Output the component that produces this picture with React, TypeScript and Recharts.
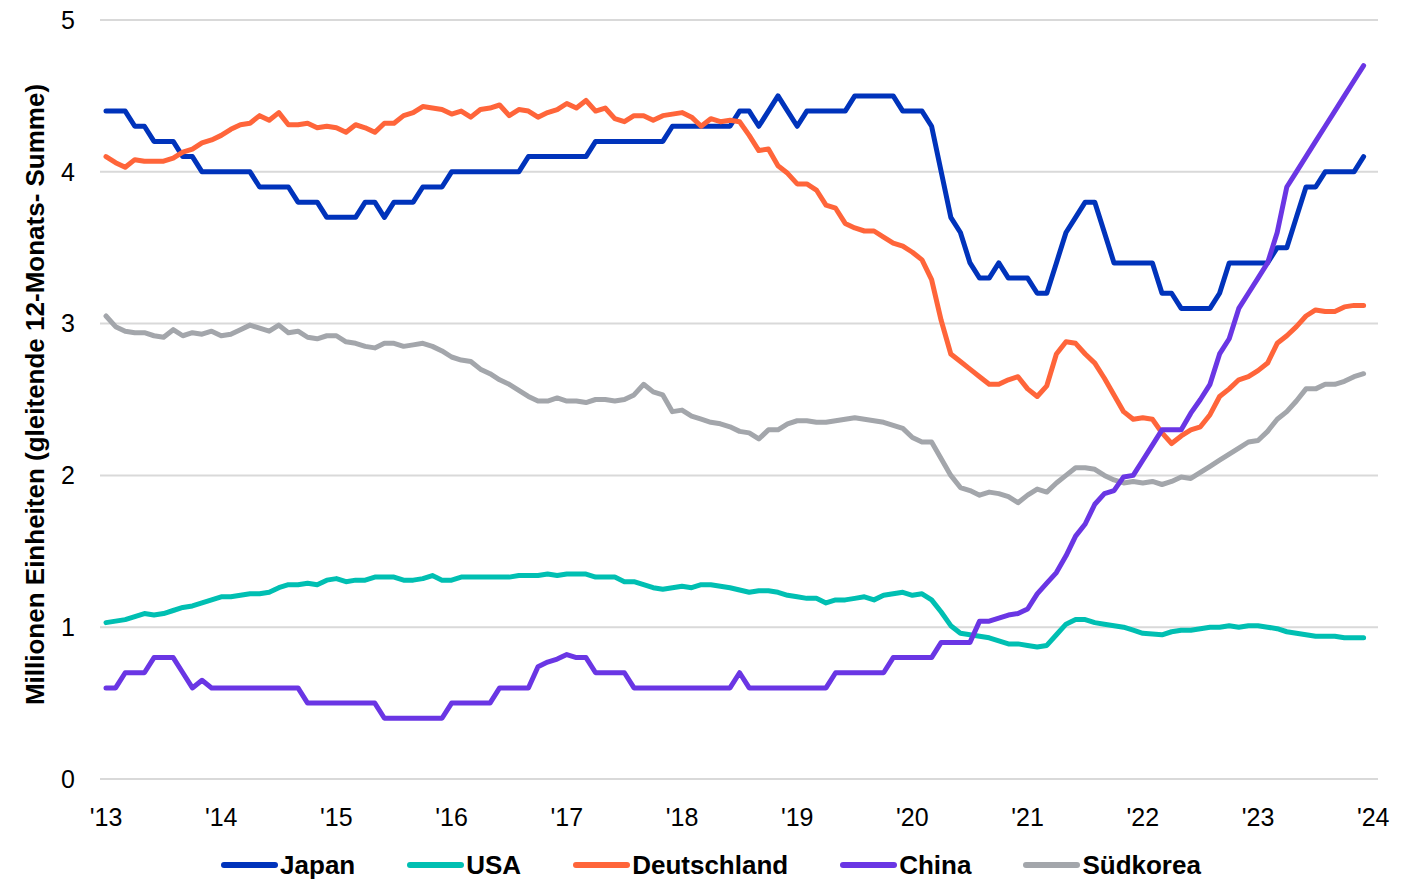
import React from "react";
import { LineChart, Line, XAxis, YAxis, CartesianGrid, Legend, Label } from "recharts";

// monthly values, Jan 2013 .. Dec 2023 (rolling 12-month sums, millions)
const japan = [
  4.4, 4.4, 4.4, 4.3, 4.3, 4.2, 4.2, 4.2, 4.1, 4.1, 4.0, 4.0,
  4.0, 4.0, 4.0, 4.0, 3.9, 3.9, 3.9, 3.9, 3.8, 3.8, 3.8, 3.7,
  3.7, 3.7, 3.7, 3.8, 3.8, 3.7, 3.8, 3.8, 3.8, 3.9, 3.9, 3.9,
  4.0, 4.0, 4.0, 4.0, 4.0, 4.0, 4.0, 4.0, 4.1, 4.1, 4.1, 4.1,
  4.1, 4.1, 4.1, 4.2, 4.2, 4.2, 4.2, 4.2, 4.2, 4.2, 4.2, 4.3,
  4.3, 4.3, 4.3, 4.3, 4.3, 4.3, 4.4, 4.4, 4.3, 4.4, 4.5, 4.4,
  4.3, 4.4, 4.4, 4.4, 4.4, 4.4, 4.5, 4.5, 4.5, 4.5, 4.5, 4.4,
  4.4, 4.4, 4.3, 4.0, 3.7, 3.6, 3.4, 3.3, 3.3, 3.4, 3.3, 3.3,
  3.3, 3.2, 3.2, 3.4, 3.6, 3.7, 3.8, 3.8, 3.6, 3.4, 3.4, 3.4,
  3.4, 3.4, 3.2, 3.2, 3.1, 3.1, 3.1, 3.1, 3.2, 3.4, 3.4, 3.4,
  3.4, 3.4, 3.5, 3.5, 3.7, 3.9, 3.9, 4.0, 4.0, 4.0, 4.0, 4.1,
];

const usa = [
  1.03, 1.04, 1.05, 1.07, 1.09, 1.08, 1.09, 1.11, 1.13, 1.14, 1.16, 1.18,
  1.2, 1.2, 1.21, 1.22, 1.22, 1.23, 1.26, 1.28, 1.28, 1.29, 1.28, 1.31,
  1.32, 1.3, 1.31, 1.31, 1.33, 1.33, 1.33, 1.31, 1.31, 1.32, 1.34, 1.31,
  1.31, 1.33, 1.33, 1.33, 1.33, 1.33, 1.33, 1.34, 1.34, 1.34, 1.35, 1.34,
  1.35, 1.35, 1.35, 1.33, 1.33, 1.33, 1.3, 1.3, 1.28, 1.26, 1.25, 1.26,
  1.27, 1.26, 1.28, 1.28, 1.27, 1.26, 1.245, 1.23, 1.24, 1.24, 1.23, 1.21,
  1.2, 1.19, 1.19, 1.16, 1.18, 1.18, 1.19, 1.2, 1.18, 1.21, 1.22, 1.23,
  1.21, 1.22, 1.18, 1.1, 1.01, 0.96, 0.95, 0.94, 0.93, 0.91, 0.89, 0.89,
  0.88, 0.87, 0.88, 0.95, 1.02, 1.05, 1.05, 1.03, 1.02, 1.01, 1.0, 0.98,
  0.96, 0.955, 0.95, 0.97, 0.98, 0.98, 0.99, 1.0, 1.0, 1.01, 1.0, 1.01,
  1.01, 1.0, 0.99, 0.97, 0.96, 0.95, 0.94, 0.94, 0.94, 0.93, 0.93, 0.93,
];

const deutschland = [
  4.1, 4.06, 4.03, 4.08, 4.07, 4.07, 4.07, 4.09, 4.13, 4.15, 4.19, 4.21,
  4.24, 4.28, 4.31, 4.32, 4.37, 4.34, 4.39, 4.31, 4.31, 4.32, 4.29, 4.3,
  4.29, 4.26, 4.31, 4.29, 4.26, 4.32, 4.32, 4.37, 4.39, 4.43, 4.42, 4.41,
  4.38, 4.4, 4.36, 4.41, 4.42, 4.44, 4.37, 4.41, 4.4, 4.36, 4.39, 4.41,
  4.45, 4.42, 4.47, 4.4, 4.42, 4.35, 4.33, 4.37, 4.37, 4.34, 4.37, 4.38,
  4.39, 4.36, 4.3, 4.35, 4.33, 4.34, 4.33, 4.24, 4.14, 4.15, 4.04, 3.99,
  3.92, 3.92, 3.88, 3.78, 3.76, 3.66, 3.63, 3.61, 3.61, 3.57, 3.53, 3.51,
  3.47, 3.42, 3.29, 3.02, 2.8, 2.75, 2.7, 2.65, 2.6, 2.6, 2.63, 2.65,
  2.57, 2.52, 2.59, 2.8, 2.88, 2.87, 2.8, 2.74, 2.64, 2.53, 2.42, 2.37,
  2.38, 2.37, 2.28, 2.21, 2.26, 2.3, 2.32, 2.4, 2.52, 2.57, 2.63, 2.65,
  2.69, 2.74, 2.87, 2.92, 2.98, 3.05, 3.09, 3.08, 3.08, 3.11, 3.12, 3.12,
];

const china = [
  0.6, 0.6, 0.7, 0.7, 0.7, 0.8, 0.8, 0.8, 0.7, 0.6, 0.65, 0.6,
  0.6, 0.6, 0.6, 0.6, 0.6, 0.6, 0.6, 0.6, 0.6, 0.5, 0.5, 0.5,
  0.5, 0.5, 0.5, 0.5, 0.5, 0.4, 0.4, 0.4, 0.4, 0.4, 0.4, 0.4,
  0.5, 0.5, 0.5, 0.5, 0.5, 0.6, 0.6, 0.6, 0.6, 0.74, 0.77, 0.79,
  0.82, 0.8, 0.8, 0.7, 0.7, 0.7, 0.7, 0.6, 0.6, 0.6, 0.6, 0.6,
  0.6, 0.6, 0.6, 0.6, 0.6, 0.6, 0.7, 0.6, 0.6, 0.6, 0.6, 0.6,
  0.6, 0.6, 0.6, 0.6, 0.7, 0.7, 0.7, 0.7, 0.7, 0.7, 0.8, 0.8,
  0.8, 0.8, 0.8, 0.9, 0.9, 0.9, 0.9, 1.04, 1.04, 1.06, 1.08, 1.09,
  1.12, 1.22, 1.29, 1.36, 1.47, 1.6, 1.68, 1.81, 1.88, 1.9, 1.99, 2.0,
  2.1, 2.2, 2.3, 2.3, 2.3, 2.41, 2.5, 2.6, 2.8, 2.9, 3.1, 3.2,
  3.3, 3.4, 3.6, 3.9, 4.0, 4.1, 4.2, 4.3, 4.4, 4.5, 4.6, 4.7,
];

const suedkorea = [
  3.05, 2.98, 2.95, 2.94, 2.94, 2.92, 2.91, 2.96, 2.92, 2.94, 2.93, 2.95,
  2.92, 2.93, 2.96, 2.99, 2.97, 2.95, 2.99, 2.94, 2.95, 2.91, 2.9, 2.92,
  2.92, 2.88, 2.87, 2.85, 2.84, 2.87, 2.87, 2.85, 2.86, 2.87, 2.85, 2.82,
  2.78, 2.76, 2.75, 2.7, 2.67, 2.63, 2.6, 2.56, 2.52, 2.49, 2.49, 2.51,
  2.49, 2.49, 2.48, 2.5, 2.5, 2.49, 2.5, 2.53, 2.6, 2.55, 2.53, 2.42,
  2.43, 2.39, 2.37, 2.35, 2.34, 2.32, 2.29, 2.28, 2.24, 2.3, 2.3, 2.34,
  2.36, 2.36, 2.35, 2.35, 2.36, 2.37, 2.38, 2.37, 2.36, 2.35, 2.33, 2.31,
  2.25, 2.22, 2.22, 2.11, 2.0, 1.92, 1.9, 1.87, 1.89, 1.88, 1.86, 1.82,
  1.87, 1.91, 1.89, 1.95, 2.0, 2.05, 2.05, 2.04, 2.0, 1.97, 1.95, 1.96,
  1.95, 1.96, 1.94, 1.96, 1.99, 1.98, 2.02, 2.06, 2.1, 2.14, 2.18, 2.22,
  2.23, 2.29, 2.37, 2.42, 2.49, 2.57, 2.57, 2.6, 2.6, 2.62, 2.65, 2.67,
];

const yearLabels = ["'13", "'14", "'15", "'16", "'17", "'18", "'19", "'20", "'21", "'22", "'23", "'24"];
const yTicks = [0, 1, 2, 3, 4, 5];

const series = [
  { key: "Japan", color: "#0033bb", values: japan },
  { key: "USA", color: "#00bfb2", values: usa },
  { key: "Deutschland", color: "#ff653a", values: deutschland },
  { key: "China", color: "#6a36e4", values: china },
  { key: "Südkorea", color: "#a3a6ab", values: suedkorea },
];

// draw order: purple sits on top of the others in the original
const drawOrder = ["Japan", "USA", "Deutschland", "Südkorea", "China"];

const data = japan.map((_, i) => {
  const row: Record<string, number> = { m: i };
  series.forEach((s) => (row[s.key] = s.values[i]));
  return row;
});

const FONT = "'Liberation Sans', Arial, sans-serif";

function YTitle(props: any) {
  const { viewBox } = props;
  const cy = viewBox.y + viewBox.height / 2 - 5;
  return (
    <text
      transform={`translate(35, ${cy}) rotate(-90)`}
      textAnchor="middle"
      dominantBaseline="central"
      fontFamily={FONT}
      fontWeight={700}
      fontSize={26}
      fill="#000"
    >
      Millionen Einheiten (gleitende 12-Monats- Summe)
    </text>
  );
}

function LegendRow() {
  return (
    <div
      style={{
        display: "flex",
        justifyContent: "center",
        alignItems: "center",
        gap: 52,
        height: 40,
        paddingLeft: 6,
        fontFamily: FONT,
        fontWeight: 700,
        fontSize: 26,
        color: "#000",
      }}
    >
      {series.map((s) => (
        <div key={s.key} style={{ display: "flex", alignItems: "center" }}>
          <svg width={57} height={10}>
            <line x1={3} y1={5} x2={54} y2={5} stroke={s.color} strokeWidth={6} strokeLinecap="round" />
          </svg>
          <span style={{ marginLeft: 2 }}>{s.key}</span>
        </div>
      ))}
    </div>
  );
}

export default function App() {
  return (
    <div style={{ position: "absolute", left: 0, top: 0, width: 1416, height: 883, background: "#fff" }}>
      <LineChart width={1416} height={883} data={data} margin={{ top: 20, right: 38, left: 0, bottom: 14 }}>
        <CartesianGrid horizontal vertical={false} stroke="#d9d9d9" strokeWidth={2} />
        <XAxis
          dataKey="m"
          type="number"
          domain={[-0.625, 132.5]}
          allowDataOverflow
          ticks={yearLabels.map((_, k) => k * 12)}
          tickFormatter={(v: number) => yearLabels[v / 12]}
          axisLine={false}
          tickLine={false}
          tickMargin={23}
          height={50}
          tick={{ fill: "#000", fontSize: 25, fontFamily: FONT }}
        />
        <YAxis
          width={100}
          domain={[0, 5]}
          ticks={yTicks}
          axisLine={false}
          tickLine={false}
          tickMargin={19}
          tick={{ fill: "#000", fontSize: 25, fontFamily: FONT }}
        >
          <Label content={YTitle} />
        </YAxis>
        <Legend
          verticalAlign="bottom"
          content={() => <LegendRow />}
          wrapperStyle={{ top: 845, bottom: "auto", left: 0, width: 1416 }}
        />
        {drawOrder.map((k) => {
          const s = series.find((x) => x.key === k)!;
          return (
            <Line
              key={k}
              type="linear"
              dataKey={k}
              stroke={s.color}
              strokeWidth={5}
              strokeLinejoin="round"
              strokeLinecap="round"
              dot={false}
              activeDot={false}
              isAnimationActive={false}
            />
          );
        })}
      </LineChart>
    </div>
  );
}
